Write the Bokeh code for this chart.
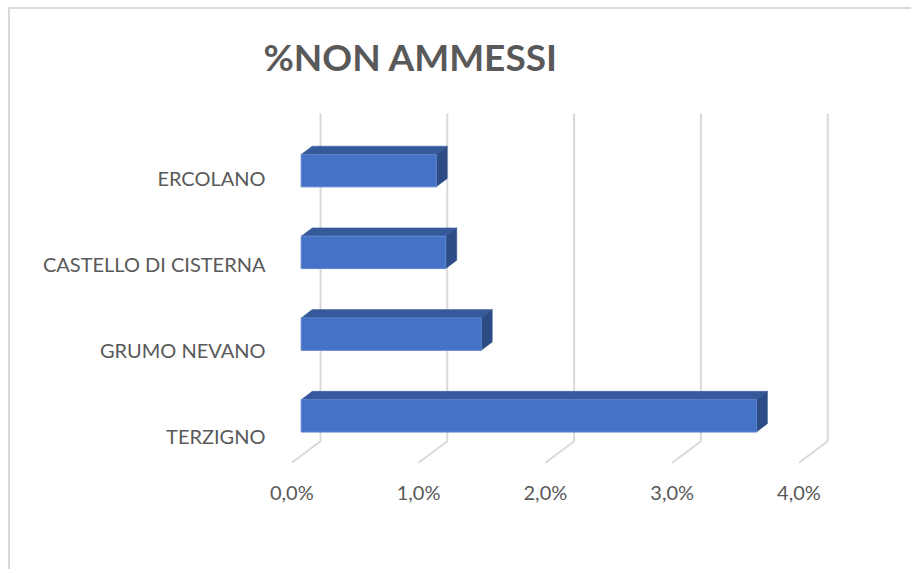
from bokeh.plotting import figure
from bokeh.models import Range1d, LinearAxis, FixedTicker
from bokeh.embed import file_html
from bokeh.resources import INLINE

# ---------------- data ----------------
title_text = "%NON AMMESSI"
categories = ["TERZIGNO", "GRUMO NEVANO", "CASTELLO DI CISTERNA", "ERCOLANO"]  # bottom -> top
values = [3.59, 1.42, 1.14, 1.065]          # percent
x_ticks = [0, 1, 2, 3, 4]
x_tick_labels = ["0,0%", "1,0%", "2,0%", "3,0%", "4,0%"]

# ---------------- layout / style constants (page pixels) ----------------
PAGE_MARGIN = 8
BORDER = 2
W, H = 903, 562
FL, FR, FT, FB = 284, 840, 100, 470     # plot frame edges on the page
SX = 126.8                              # px per 1 %
SY = 81.73                              # px per category step (bars)
X0 = 300.7                              # page x of 0 % on the bar front faces
Y0 = 416.35                             # page y of the first bar centre
LAB_SY = 86.1                           # category label spacing
LAB_Y0 = 436.3                          # page y of first category label
WALL_DX = 19.3 / SX                     # back wall offset (3D depth)
FLOOR_DX = -9.4 / SX                    # front floor edge offset
WALL_TOP = (Y0 - 114) / SY
WALL_BOT = (Y0 - 441.7) / SY
FLOOR_Y = (Y0 - 463.3) / SY
BAR_H = 32.4 / SY
DEP_X = 11.0 / SX
DEP_Y = 8.3 / SY

TEXT_COLOR = "#595959"
GRID_COLOR = "#D9D9D9"
FRONT = "#4472C4"
TOP = "#36599B"
SIDE = "#2D4C85"
FONT = "Lato"

off = PAGE_MARGIN + BORDER
p = figure(width=W, height=H, output_backend="svg", toolbar_location=None,
           x_axis_location=None, y_axis_location=None,
           x_range=Range1d((FL - X0) / SX, (FR - X0) / SX),
           y_range=Range1d((Y0 - FB) / SY, (Y0 - FT) / SY),
           min_border_left=FL - off, min_border_right=W - (FR - off),
           min_border_top=FT - off, min_border_bottom=H - (FB - off))
p.outline_line_color = None
p.background_fill_color = "white"
p.border_fill_color = "white"
p.styles = {"border-left": f"{BORDER}px solid {GRID_COLOR}",
            "border-top": f"{BORDER}px solid {GRID_COLOR}",
            "margin-left": f"{PAGE_MARGIN}px",
            "margin-top": f"{PAGE_MARGIN - 1}px"}
for g in p.grid:
    g.visible = False

# title
p.title.text = title_text
p.title.align = "left"
p.title.offset = 265 - FL - 2
p.title.standoff = 41
p.title.text_font = FONT
p.title.text_font_style = "bold"
p.title.text_font_size = "37px"
p.title.text_color = TEXT_COLOR

# extra ranges for the axis labels (projected front edge of the 3D floor)
p.extra_x_ranges = {"xlab": Range1d((FL - X0) / SX - FLOOR_DX, (FR - X0) / SX - FLOOR_DX)}
p.extra_y_ranges = {"ylab": Range1d((LAB_Y0 - FB) / LAB_SY, (LAB_Y0 - FT) / LAB_SY)}

# back wall gridlines + floor diagonals
gx = [[t + FLOOR_DX, t + WALL_DX, t + WALL_DX] for t in x_ticks]
gy = [[FLOOR_Y, WALL_BOT, WALL_TOP] for t in x_ticks]
p.multi_line(gx, gy, line_color=GRID_COLOR, line_width=2)

# bars (3D)
idx = list(range(len(categories)))
top_xs = [[0, v, v + DEP_X, DEP_X] for v in values]
top_ys = [[i + BAR_H / 2, i + BAR_H / 2, i + BAR_H / 2 + DEP_Y, i + BAR_H / 2 + DEP_Y] for i in idx]
side_xs = [[v, v + DEP_X, v + DEP_X, v] for v in values]
side_ys = [[i - BAR_H / 2, i - BAR_H / 2 + DEP_Y, i + BAR_H / 2 + DEP_Y, i + BAR_H / 2] for i in idx]
p.patches(top_xs, top_ys, fill_color=TOP, line_color=TOP, line_width=0.5)
p.patches(side_xs, side_ys, fill_color=SIDE, line_color=SIDE, line_width=0.5)
p.quad(left=0, right=values, bottom=[i - BAR_H / 2 for i in idx], top=[i + BAR_H / 2 for i in idx],
       fill_color=FRONT, line_color="#5B84D0", line_width=1)

# axes
xa = LinearAxis(x_range_name="xlab", ticker=FixedTicker(ticks=x_ticks),
                major_label_overrides=dict(zip(x_ticks, x_tick_labels)))
ya = LinearAxis(y_range_name="ylab", ticker=FixedTicker(ticks=idx),
                major_label_overrides=dict(zip(idx, categories)))
for ax in (xa, ya):
    ax.axis_line_color = None
    ax.major_tick_line_color = None
    ax.minor_tick_line_color = None
    ax.major_label_text_font = FONT
    ax.major_label_text_font_size = "20px"
    ax.major_label_text_color = TEXT_COLOR
xa.major_label_standoff = 4
ya.major_label_standoff = 13
p.add_layout(xa, "below")
p.add_layout(ya, "left")

open("out.html", "w").write(file_html(p, INLINE))
